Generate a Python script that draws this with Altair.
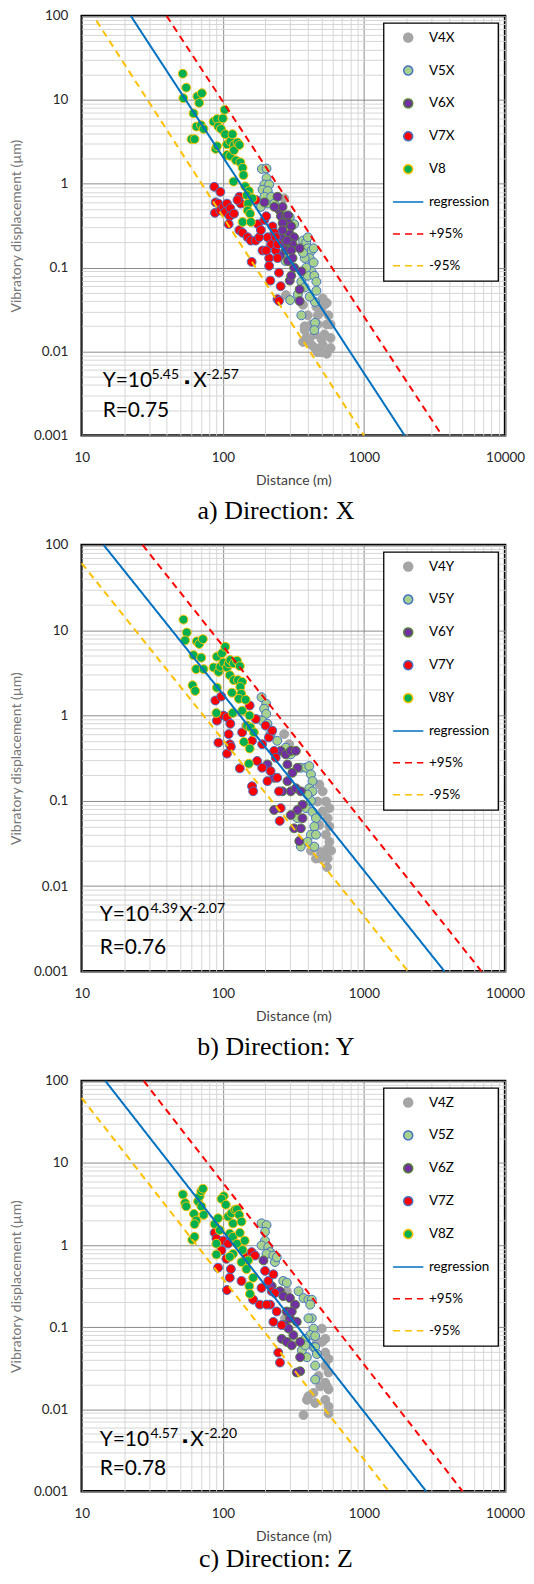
import altair as alt
import pandas as pd

# ---------------- axis ticks ----------------
X_TICKS = [10, 20, 30, 40, 50, 60, 70, 80, 90,
           100, 200, 300, 400, 500, 600, 700, 800, 900,
           1000, 2000, 3000, 4000, 5000, 6000, 7000, 8000, 9000, 10000]
X_MAJOR = [10, 100, 1000, 10000]
Y_TICKS = [0.001, 0.002, 0.003, 0.004, 0.005, 0.006, 0.007, 0.008, 0.009,
           0.01, 0.02, 0.03, 0.04, 0.05, 0.06, 0.07, 0.08, 0.09,
           0.1, 0.2, 0.3, 0.4, 0.5, 0.6, 0.7, 0.8, 0.9,
           1, 2, 3, 4, 5, 6, 7, 8, 9,
           10, 20, 30, 40, 50, 60, 70, 80, 90, 100]
Y_MAJOR = [0.001, 0.01, 0.1, 1, 10, 100]

# ---------------- panel a (X) ----------------
A_NAMES = ["V4X", "V5X", "V6X", "V7X", "V8", "regression", "+95%", "-95%"]
A_V4_D = [272, 280, 370, 380, 390, 370, 425, 450, 470, 500, 510, 525, 545, 560, 525, 500,
          470, 450, 412, 580, 580, 545, 500, 470, 510, 400, 425, 380, 460, 545, 580]
A_V4_Y = [0.67, 0.047, 0.036, 0.02, 0.0145, 0.013, 0.012, 0.011, 0.0098, 0.0098, 0.012, 0.016,
          0.021, 0.027, 0.036, 0.03, 0.021, 0.016, 0.0145, 0.0145, 0.011, 0.0094, 0.014, 0.027,
          0.043, 0.027, 0.021, 0.018, 0.034, 0.038, 0.021]
A_V5_D = [189, 204, 204, 197, 213, 191, 208, 197, 186, 208, 220, 232, 305, 370, 390, 400, 425,
          412, 440, 440, 425, 400, 445, 460, 460, 450, 412, 360, 380, 340, 300, 360, 380, 390,
          450, 445, 278, 298, 320, 370, 400]
A_V5_Y = [1.5, 1.52, 1.17, 0.98, 0.98, 0.85, 0.82, 0.7, 0.53, 0.58, 0.7, 0.58, 0.17, 0.21, 0.2,
          0.17, 0.16, 0.13, 0.17, 0.115, 0.09, 0.08, 0.08, 0.068, 0.053, 0.039, 0.045, 0.068,
          0.058, 0.048, 0.041, 0.027, 0.13, 0.1, 0.022, 0.018, 0.12, 0.4, 0.33, 0.15, 0.23]
A_V6_D = [197, 244, 250, 265, 258, 280, 290, 290, 265, 258, 272, 305, 298, 320, 312, 278, 305,
          350, 290, 312, 265, 285, 298, 305, 320, 360, 350, 350, 255, 232]
A_V6_Y = [0.6, 0.7, 0.49, 0.53, 0.41, 0.41, 0.42, 0.34, 0.34, 0.23, 0.19, 0.31, 0.25, 0.23, 0.19,
          0.16, 0.16, 0.17, 0.12, 0.13, 0.28, 0.21, 0.07, 0.08, 0.1, 0.09, 0.055, 0.04, 0.14, 0.53]
A_V7_D = [87, 96, 89, 93, 88, 96, 101, 104, 107, 113, 112, 110, 120, 131, 134, 127, 131, 138,
          150, 158, 171, 171, 160, 177, 181, 186, 191, 197, 203, 208, 213, 213, 220, 225, 232,
          237, 237, 244, 217, 250, 257, 244, 250, 203, 244]
A_V7_Y = [0.92, 0.8, 0.6, 0.58, 0.45, 0.48, 0.53, 0.46, 0.58, 0.51, 0.41, 0.33, 0.44, 0.7, 0.58,
          0.64, 0.28, 0.26, 0.23, 0.21, 0.64, 0.21, 0.117, 0.33, 0.23, 0.28, 0.16, 0.37, 0.41,
          0.23, 0.13, 0.105, 0.19, 0.31, 0.26, 0.23, 0.16, 0.13, 0.07, 0.087, 0.06, 0.042, 0.04,
          0.16, 0.19]
A_V8_D = [52, 52.5, 55, 62, 65, 60, 63, 66, 68, 71, 70, 73, 86, 91, 93, 97, 100, 103, 89, 91,
          104, 107, 113, 117, 120, 107, 113, 120, 127, 131, 124, 133, 138, 140, 119, 144, 153,
          148, 162, 151, 150, 156, 138, 158]
A_V8_Y = [20.5, 10.5, 14, 6.9, 4.8, 3.4, 3.4, 11, 9.2, 12, 5, 4.5, 5.5, 5.9, 4.8, 4.5, 6, 7.6,
          2.6, 2.8, 3.9, 2.95, 3.2, 3.9, 2.9, 2.2, 2.15, 2.5, 3.1, 2.9, 1.9, 1.8, 1.55, 1.27,
          1.06, 0.93, 0.82, 0.73, 0.67, 0.58, 0.48, 0.44, 0.35, 0.35]
A_REG_D, A_REG_Y = [22.3, 1940], [100, 0.001]
A_UP_D, A_UP_Y = [40, 3570], [100, 0.001]
A_LO_D, A_LO_Y = [12.7, 1000], [88, 0.001]

# ---------------- panel b (Y) ----------------
B_NAMES = ["V4Y", "V5Y", "V6Y", "V7Y", "V8Y", "regression", "+95%", "-95%"]
B_V4_D = [272, 295, 483, 510, 538, 569, 553, 569, 538, 569, 553, 585, 524, 496, 457, 496, 553,
          547, 483, 510, 470, 421]
B_V4_Y = [0.605, 0.46, 0.155, 0.129, 0.098, 0.082, 0.0625, 0.05, 0.04, 0.033, 0.0275, 0.026,
          0.024, 0.021, 0.021, 0.025, 0.021, 0.0167, 0.052, 0.075, 0.098, 0.026]
B_V5_D = [188, 203, 196, 203, 190, 207, 218, 243, 279, 303, 357, 388, 410, 421, 432, 410, 432,
          421, 398, 388, 432, 457, 445, 421, 457, 445, 398, 357, 338]
B_V5_Y = [1.64, 1.37, 1.2, 1.045, 0.87, 0.8, 0.605, 0.505, 0.42, 0.35, 0.244, 0.244, 0.255,
          0.204, 0.17, 0.14, 0.129, 0.1, 0.118, 0.082, 0.074, 0.0625, 0.05, 0.04, 0.04, 0.029,
          0.033, 0.029, 0.0625]
B_V6_D = [207, 231, 257, 279, 303, 329, 338, 311, 287, 303, 329, 357, 367, 338, 303, 320, 357,
          348, 231, 287, 264, 367]
B_V6_Y = [0.267, 0.186, 0.385, 0.35, 0.385, 0.385, 0.244, 0.213, 0.17, 0.129, 0.14, 0.129, 0.09,
          0.078, 0.068, 0.0475, 0.0475, 0.0337, 0.078, 0.267, 0.129, 0.0625]
B_V7_D = [88.5, 97.5, 90.8, 101, 107, 113, 110, 112, 107, 93, 114, 132, 137, 147, 155, 171, 161,
          175, 190, 201, 212, 224, 231, 237, 243, 250, 257, 253, 161, 164, 218, 207, 190]
B_V7_Y = [1.5, 1.67, 0.87, 1.0, 0.955, 0.8, 0.605, 0.46, 0.357, 0.48, 0.43, 0.24, 0.634, 0.76,
          1.31, 0.91, 0.505, 0.293, 0.244, 0.76, 0.553, 0.664, 0.385, 0.32, 0.186, 0.129, 0.082,
          0.058, 0.148, 0.129, 0.223, 0.17, 0.46]
B_V8_D = [52.6, 55.5, 54, 65.4, 68, 72.2, 62, 70.3, 64.7, 73, 61, 63.7, 86, 90.8, 93.3, 96, 98.6,
          104, 101, 107, 110, 113, 119.5, 126, 132, 112, 119.5, 128, 137, 133, 135, 116, 130, 145,
          90.8, 90, 117.5, 137, 154.5, 148.5, 157, 166, 141, 155, 153]
B_V8_Y = [13.3, 9.4, 7.6, 7.4, 6.9, 7.85, 5.1, 4.76, 3.5, 3.5, 2.26, 1.94, 3.66, 4.9, 3.25, 3.73,
          5.36, 6.4, 4.16, 3.66, 4.08, 4.47, 4.08, 4.39, 3.79, 2.97, 2.6, 2.6, 2.48, 2.16, 1.8,
          1.85, 1.57, 1.53, 2.12, 1.07, 1.07, 1.14, 1.0, 0.76, 0.726, 0.634, 0.49, 0.41, 0.272]
B_REG_D, B_REG_Y = [14.3, 3720], [100, 0.001]
B_UP_D, B_UP_Y = [27, 6800], [100, 0.001]
B_LO_D, B_LO_Y = [10, 2050], [61, 0.001]

# ---------------- panel c (Z) ----------------
C_NAMES = ["V4Z", "V5Z", "V6Z", "V7Z", "V8Z", "regression", "+95%", "-95%"]
C_V4_D = [284, 276, 503, 532, 532, 561, 532, 561, 476, 532, 561, 439, 404, 451, 394, 532, 561,
          561, 373, 546, 490, 503, 464]
C_V4_Y = [0.274, 0.128, 0.096, 0.072, 0.049, 0.041, 0.034, 0.028, 0.0254, 0.021, 0.0174, 0.0158,
          0.0144, 0.0119, 0.013, 0.013, 0.0108, 0.0089, 0.0085, 0.019, 0.019, 0.066, 0.066]
C_V5_D = [188, 204, 199, 199, 188, 210, 216, 204, 228, 234, 241, 268, 284, 344, 373, 404, 427,
          416, 427, 404, 439, 416, 451, 439, 451, 464, 451, 451, 383, 363, 383, 394]
C_V5_Y = [1.84, 1.75, 1.45, 1.13, 0.99, 0.945, 0.82, 0.78, 0.745, 0.62, 0.71, 0.365, 0.348,
          0.274, 0.226, 0.216, 0.216, 0.188, 0.128, 0.128, 0.096, 0.08, 0.078, 0.057, 0.057,
          0.047, 0.034, 0.023, 0.072, 0.052, 0.06, 0.043]
C_V6_D = [194, 222, 254, 268, 299, 325, 334, 284, 261, 284, 308, 316, 353, 353, 353, 334, 299,
          276, 308, 292]
C_V6_Y = [0.65, 0.316, 0.274, 0.238, 0.226, 0.188, 0.116, 0.155, 0.072, 0.066, 0.06, 0.08,
          0.066, 0.043, 0.029, 0.028, 0.128, 0.106, 0.155, 0.096]
C_V7_D = [87.5, 90, 100.5, 109, 97.8, 106, 92.5, 114, 112, 107, 135.6, 147, 160, 169, 164, 188,
          199, 210, 222, 228, 234, 216, 241, 261, 228, 247, 254, 183, 204]
C_V7_Y = [1.41, 1.2, 1.13, 1.04, 0.86, 0.68, 0.53, 0.51, 0.4, 0.283, 0.365, 0.71, 0.82, 0.745,
          0.216, 0.3, 0.485, 0.365, 0.274, 0.44, 0.26, 0.188, 0.155, 0.106, 0.116, 0.049, 0.037,
          0.188, 0.188]
C_V8_D = [52.1, 54.1, 55, 62.4, 64.8, 63, 60.7, 63, 66.7, 68.5, 70.4, 72.3, 70.4, 73.1, 87.5,
          92.5, 90, 90, 95, 101.5, 97.8, 105, 109, 115, 118, 122, 126, 130.5, 135.6, 112, 118,
          126, 132, 143, 138, 151, 135.6, 147, 164, 154, 155.6, 118, 112]
C_V8_Y = [4.13, 3.25, 2.96, 2.4, 1.99, 1.8, 1.16, 1.26, 3.41, 3.94, 4.54, 4.85, 2.96, 2.33, 1.8,
          2.12, 1.04, 0.766, 1.52, 3.94, 3.65, 3.1, 2.22, 2.44, 1.83, 2.69, 2.72, 2.33, 1.93, 1.38,
          1.26, 1.04, 1.41, 1.13, 0.87, 0.65, 0.62, 0.51, 0.4, 0.316, 0.254, 0.78, 0.72]
C_REG_D, C_REG_Y = [14.7, 2760], [100, 0.001]
C_UP_D, C_UP_Y = [27.5, 5000], [100, 0.001]
C_LO_D, C_LO_Y = [10, 1500], [62, 0.001]

# ---------------- styles ----------------
FILLS = ["#a5a5a5", "#a9d18e", "#7030a0", "#ff0000", "#00b050",
         "transparent", "transparent", "transparent"]
STROKES = ["#a5a5a5", "#4472c4", "#548235", "#4472c4", "#ffc000",
           "#0070c0", "#ff0000", "#ffc000"]
SHAPES = ["circle"] * 5 + ["M-3.4,0H3.4"] * 3
DASHES = [[1, 0]] * 6 + [[7, 5], [7, 5]]

FONT = "Lato"
PT_SIZE = 80
W = 425


def major_test(vals):
    return "indexof([" + ",".join(repr(v) for v in vals) + "], datum.value) >= 0"


X_AXIS = alt.Axis(values=X_TICKS, format="~g", title="Distance (m)",
                  labelExpr=major_test(X_MAJOR) + " ? datum.label : ''",
                  gridColor={"condition": {"test": major_test(X_MAJOR), "value": "#8c8c8c"},
                             "value": "#d6d6d6"},
                  labelPadding=15, titleY=49, titleBaseline="alphabetic",
                  titleColor="#404040")
Y_AXIS = alt.Axis(values=Y_TICKS, format="~g", title="Vibratory displacement  (µm)",
                  labelExpr=major_test(Y_MAJOR) + " ? datum.label : ''",
                  gridColor={"condition": {"test": major_test(Y_MAJOR), "value": "#8c8c8c"},
                             "value": "#d6d6d6"},
                  labelPadding=14, titlePadding=10, titleColor="#767676")


def text_layer(s, x, y, size, font=FONT, align="left"):
    return alt.Chart(pd.DataFrame({"t": [s]})).mark_text(
        align=align, baseline="alphabetic", font=font, fontSize=size, color="black"
    ).encode(x=alt.value(x), y=alt.value(y), text="t:N")


def panel(names, series, lines, eq, caption, h, cap_gap):
    pdf = pd.concat([pd.DataFrame({"dist": d, "disp": v, "series": n})
                     for n, d, v in zip(names[:5], series[0::2], series[1::2])])
    ldf = pd.concat([pd.DataFrame({"dist": d, "disp": v, "series": n})
                     for n, d, v in zip(names[5:], lines[0::2], lines[1::2])])
    x = alt.X("dist:Q", scale=alt.Scale(type="log", domain=[10, 10000], nice=False), axis=X_AXIS)
    y = alt.Y("disp:Q", scale=alt.Scale(type="log", domain=[0.001, 100], nice=False), axis=Y_AXIS)
    leg = alt.Legend(title=None)
    fill = alt.Fill("series:N", scale=alt.Scale(domain=names, range=FILLS), legend=leg)
    stroke = alt.Stroke("series:N", scale=alt.Scale(domain=names, range=STROKES), legend=leg)
    shape = alt.Shape("series:N", scale=alt.Scale(domain=names, range=SHAPES), legend=leg)
    dash = alt.StrokeDash("series:N", scale=alt.Scale(domain=names, range=DASHES), legend=leg)

    pts = alt.Chart(pdf).mark_point(filled=True, opacity=1, size=PT_SIZE, strokeWidth=1).encode(
        x=x, y=y, fill=fill, stroke=stroke, shape=shape)
    lns = alt.Chart(ldf).mark_line(strokeWidth=2).encode(
        x=x, y=y, stroke=stroke, strokeDash=dash)

    (coef, expo, r_txt, xs, base_main, base_sup, base_r, has_dot) = eq
    texts = [text_layer("Y=10", xs[0], h - base_main, 21),
             text_layer(coef, xs[1], h - base_sup, 14)]
    if has_dot:
        texts.append(text_layer("▪", xs[2], h - base_main, 14))
    texts += [text_layer("X", xs[3], h - base_main, 21),
              text_layer(expo, xs[4], h - base_sup, 14),
              text_layer(r_txt, xs[0], h - base_r, 21),
              text_layer(caption, 195, h + cap_gap, 26, font="Liberation Serif", align="center")]

    return alt.layer(pts, lns, *texts).properties(width=W, height=h)


pa = panel(A_NAMES,
           [A_V4_D, A_V4_Y, A_V5_D, A_V5_Y, A_V6_D, A_V6_Y, A_V7_D, A_V7_Y, A_V8_D, A_V8_Y],
           [A_REG_D, A_REG_Y, A_UP_D, A_UP_Y, A_LO_D, A_LO_Y],
           ("5.45", "-2.57", "R=0.75", [21, 70, 103, 112, 125], 49, 57, 18, True),
           "a) Direction: X", 421, 84)
pb = panel(B_NAMES,
           [B_V4_D, B_V4_Y, B_V5_D, B_V5_Y, B_V6_D, B_V6_Y, B_V7_D, B_V7_Y, B_V8_D, B_V8_Y],
           [B_REG_D, B_REG_Y, B_UP_D, B_UP_Y, B_LO_D, B_LO_Y],
           ("4.39", "-2.07", "R=0.76", [18, 69, 0, 98, 111], 50, 59, 17, False),
           "b) Direction: Y", 428, 84)
pc = panel(C_NAMES,
           [C_V4_D, C_V4_Y, C_V5_D, C_V5_Y, C_V6_D, C_V6_Y, C_V7_D, C_V7_Y, C_V8_D, C_V8_Y],
           [C_REG_D, C_REG_Y, C_UP_D, C_UP_Y, C_LO_D, C_LO_Y],
           ("4.57", "-2.20", "R=0.78", [18, 69, 101, 109, 123], 45, 54, 16, True),
           "c) Direction: Z", 412, 76)

chart = alt.vconcat(pa, pb, pc, spacing=110, bounds="flush").resolve_scale(
    fill="independent", stroke="independent", shape="independent", strokeDash="independent"
).resolve_legend(
    fill="independent", stroke="independent", shape="independent", strokeDash="independent"
).properties(
    padding={"left": 0, "top": -4, "right": 0, "bottom": -3}
).configure_view(
    stroke="black", strokeWidth=2.5
).configure_axis(
    grid=True, ticks=False, domain=False, gridWidth=1,
    labelFont=FONT, labelFontSize=13.5, labelColor="#262626",
    titleFont=FONT, titleFontSize=14, titleFontWeight="normal",
    labelFlush=False, labelOverlap=False
).configure_legend(
    orient="top-right", offset=7, strokeColor="black", strokeWidth=1.3, fillColor="white",
    padding=8, labelFont=FONT, labelFontSize=13.5, labelColor="black", symbolSize=PT_SIZE,
    symbolStrokeWidth=1.5, rowPadding=17, labelOffset=14, symbolOffset=10, labelLimit=200
)

chart.save("out.html", embed_options={"renderer": "svg", "actions": False})
